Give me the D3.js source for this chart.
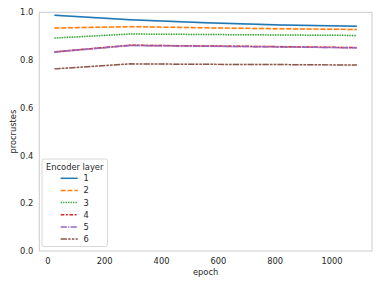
<!DOCTYPE html>
<html>
<head>
<meta charset="utf-8">
<script src="https://cdn.jsdelivr.net/npm/d3@7"></script>
<style>
  body { margin: 0; background: #fff; }
  text { font-family: "DejaVu Sans", sans-serif; fill: #262626; }
</style>
</head>
<body>
<svg id="chart" width="381" height="286"></svg>
<script>
const epochs = [25, 291, 557, 823, 1089]
const layers = ['1', '2', '3', '4', '5', '6']
const layer1 = [0.988, 0.969, 0.956, 0.947, 0.942]
const layer2 = [0.934, 0.940, 0.935, 0.931, 0.928]
const layer3 = [0.892, 0.909, 0.907, 0.905, 0.903]
const layer4 = [0.834, 0.862, 0.859, 0.856, 0.852]
const layer5 = [0.834, 0.861, 0.858, 0.855, 0.851]
const layer6 = [0.763, 0.784, 0.782, 0.781, 0.779]
const ciHalf = [0.004, 0.004, 0.003, 0.004, 0.004, 0.003]
const yTicks = [0.0, 0.2, 0.4, 0.6, 0.8, 1.0]
const xTicks = [0, 200, 400, 600, 800, 1000]

const series = [layer1, layer2, layer3, layer4, layer5, layer6]
const colors = ['#1f77b4', '#ff7f0e', '#2ca02c', '#d62728', '#9467bd', '#8c564b']
const lw = 1.24
const dashes = [[], [4, 1.5], [1, 1], [3, 1.25, 1.5, 1.25], [5, 1, 1, 1], [5, 1, 2, 1, 2, 1]]
  .map(d => d.map(v => (v * lw).toFixed(2)).join(' '))

const svg = d3.select('#chart')
const margin = { top: 12.3, right: 9, bottom: 35, left: 39.3 }
const width = 381 - margin.right
const height = 286 - margin.bottom
const fs = 8.3

const xscale = d3.scaleLinear()
  .domain([-28.2, 1142.2])
  .range([margin.left, width])

const yscale = d3.scaleLinear()
  .domain([0, 1])
  .range([height, margin.top])

// frame
svg.append('rect')
  .attr('x', margin.left)
  .attr('y', margin.top)
  .attr('width', width - margin.left)
  .attr('height', height - margin.top)
  .attr('fill', 'none')
  .attr('stroke', '#cccccc')
  .attr('stroke-width', 1)

const xAxis = svg.append('g')
  .attr('transform', `translate(0, ${height})`)
  .call(d3.axisBottom(xscale).tickValues(xTicks).tickSize(0).tickPadding(7).tickFormat(d3.format('d')))
xAxis.select('.domain').remove()
xAxis.selectAll('text').attr('font-size', fs).attr('font-family', 'DejaVu Sans').attr('fill', '#262626')

const yAxis = svg.append('g')
  .attr('transform', `translate(${margin.left}, 0)`)
  .call(d3.axisLeft(yscale).tickValues(yTicks).tickSize(0).tickPadding(6).tickFormat(d3.format('.1f')))
yAxis.select('.domain').remove()
yAxis.selectAll('text').attr('font-size', fs).attr('font-family', 'DejaVu Sans').attr('fill', '#262626')

svg.append('text')
  .text('epoch')
  .attr('x', (margin.left + width) / 2)
  .attr('y', 275)
  .attr('text-anchor', 'middle')
  .attr('font-size', fs)

svg.append('text')
  .text('procrustes')
  .attr('transform', `translate(16, ${(margin.top + height) / 2}) rotate(-90)`)
  .attr('text-anchor', 'middle')
  .attr('font-size', fs)

const area = d3.area()
  .x((d, i) => xscale(epochs[i]))
const line = d3.line()
  .x((d, i) => xscale(epochs[i]))
  .y(d => yscale(d))

series.forEach((vals, k) => {
  svg.append('path')
    .datum(vals)
    .attr('d', area.y0(d => yscale(d - ciHalf[k])).y1(d => yscale(d + ciHalf[k])))
    .attr('fill', colors[k])
    .attr('opacity', 0.2)
})

series.forEach((vals, k) => {
  svg.append('path')
    .datum(vals)
    .attr('d', line)
    .attr('fill', 'none')
    .attr('stroke', colors[k])
    .attr('stroke-width', lw * 1.2)
    .attr('stroke-dasharray', dashes[k] || null)
})

// legend
const legend = svg.append('g')
legend.append('rect')
  .attr('x', 42)
  .attr('y', 159)
  .attr('width', 65.5)
  .attr('height', 87.5)
  .attr('rx', 2)
  .attr('fill', 'rgba(255,255,255,0.8)')
  .attr('stroke', '#d8d8d8')
  .attr('stroke-width', 1)

legend.append('text')
  .text('Encoder layer')
  .attr('x', 74.7)
  .attr('y', 170)
  .attr('text-anchor', 'middle')
  .attr('font-size', fs)

layers.forEach((name, k) => {
  const y = 178.3 + k * 12.15
  legend.append('line')
    .attr('x1', 60.7)
    .attr('x2', 77.7)
    .attr('y1', y)
    .attr('y2', y)
    .attr('stroke', colors[k])
    .attr('stroke-width', lw * 1.2)
    .attr('stroke-dasharray', dashes[k] || null)
  legend.append('text')
    .text(name)
    .attr('x', 83.5)
    .attr('y', y + 3)
    .attr('font-size', fs)
})
</script>
</body>
</html>
